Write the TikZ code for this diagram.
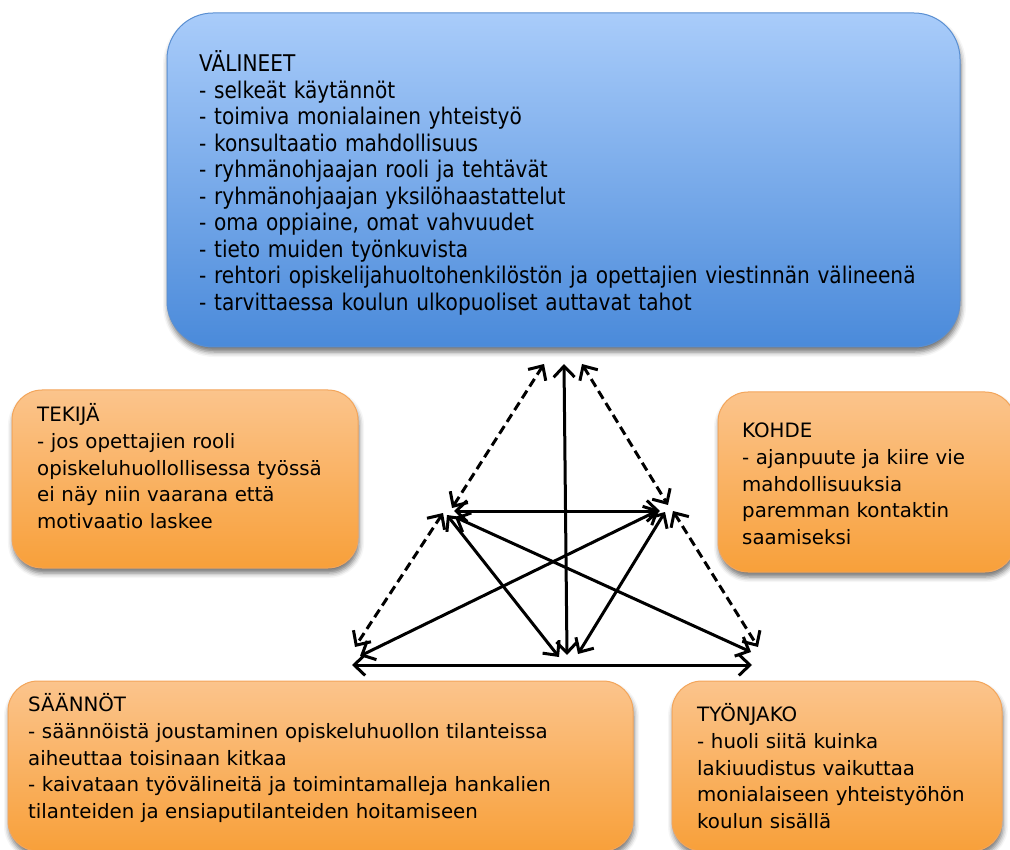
\documentclass[tikz,border=0pt]{standalone}
\usepackage{fontspec}
\newfontfamily\cardfont{DejaVu Sans}
\newfontfamily\toolsfont{DejaVu Sans}[FakeStretch=0.875]
\usetikzlibrary{arrows.meta,shadows.blur}

\definecolor{bluetop}{HTML}{A9CCFA}
\definecolor{bluebot}{HTML}{4A8ADA}
\definecolor{blueline}{HTML}{5A8FD2}
\definecolor{orangetop}{HTML}{FBC48C}
\definecolor{orangebot}{HTML}{F8A03A}
\definecolor{orangeline}{HTML}{F3A55A}

\tikzset{
  card/.style={draw=orangeline, line width=1pt, rounded corners=30pt,
    top color=orangetop, bottom color=orangebot, inner sep=0pt,
    blur shadow={shadow xshift=1pt, shadow yshift=-5pt, shadow blur radius=5pt, shadow opacity=55}},
  toolcard/.style={card, draw=blueline, rounded corners=46pt,
    top color=bluetop, bottom color=bluebot},
  cardtext/.style={anchor=north west, inner sep=0pt, text width=760pt, align=left,
    font=\cardfont\fontsize{19.8}{26.6}\selectfont},
  toolstext/.style={cardtext, font=\toolsfont\fontsize{23}{26.5}\selectfont},
  link/.style={line width=3pt, {Straight Barb[length=11pt,width=21pt]}-{Straight Barb[length=11pt,width=21pt]}},
  dlink/.style={link, dash pattern=on 9pt off 5pt}
}

\begin{document}
\begin{tikzpicture}[x=1pt,y=-1pt]
\useasboundingbox (0,0) rectangle (1010,850);

% activity system components
\node[toolcard, minimum width=793pt, minimum height=334pt] (tools) at (563.5,180) {};
\node[card, minimum width=346pt, minimum height=178pt] (subject) at (185,479) {};
\node[card, minimum width=297pt, minimum height=180pt] (object) at (866.5,482) {};
\node[card, minimum width=625pt, minimum height=170pt] (rules) at (320.5,766) {};
\node[card, minimum width=330pt, minimum height=170pt] (division) at (837,766) {};

\node[toolstext] (tools-t) at (199,50.5) {\strut VÄLINEET\\
- selkeät käytännöt\\
- toimiva monialainen yhteistyö\\
- konsultaatio mahdollisuus\\
- ryhmänohjaajan rooli ja tehtävät\\
- ryhmänohjaajan yksilöhaastattelut\\
- oma oppiaine, omat vahvuudet\\
- tieto muiden työnkuvista\\
- rehtori opiskelijahuoltohenkilöstön ja opettajien viestinnän välineenä\\
- tarvittaessa koulun ulkopuoliset auttavat tahot};

\node[cardtext] (subject-t) at (37,403) {\strut TEKIJÄ\\
- jos opettajien rooli\\
opiskeluhuollollisessa työssä\\
ei näy niin vaarana että\\
motivaatio laskee};

\node[cardtext] (object-t) at (742,419) {\strut KOHDE\\
- ajanpuute ja kiire vie\\
mahdollisuuksia\\
paremman kontaktin\\
saamiseksi};

\node[cardtext] (rules-t) at (28,693) {\strut SÄÄNNÖT\\
- säännöistä joustaminen opiskeluhuollon tilanteissa\\
aiheuttaa toisinaan kitkaa\\
- kaivataan työvälineitä ja toimintamalleja hankalien\\
tilanteiden ja ensiaputilanteiden hoitamiseen};

\node[cardtext] (division-t) at (697,703) {\strut TYÖNJAKO\\
- huoli siitä kuinka\\
lakiuudistus vaikuttaa\\
monialaiseen yhteistyöhön\\
koulun sisällä};

% triangle corner points
\coordinate (t1) at (544,364);
\coordinate (t2) at (564,364);
\coordinate (t3) at (582,364);
\coordinate (l1) at (452,508);
\coordinate (l2) at (454,511);
\coordinate (l3) at (443,513);
\coordinate (l4) at (447,515);
\coordinate (l5) at (455,517);
\coordinate (r1) at (668,505);
\coordinate (r2) at (660,511);
\coordinate (r3) at (673,511);
\coordinate (r4) at (665,512);
\coordinate (r5) at (659,510);
\coordinate (bl1) at (355,647);
\coordinate (bl2) at (352,665);
\coordinate (bl3) at (360,656);
\coordinate (bc1) at (567,655);
\coordinate (bc2) at (559,657);
\coordinate (bc3) at (578,654);
\coordinate (br1) at (758,647);
\coordinate (br2) at (752,665);
\coordinate (br3) at (751,652);

% connections
\draw[dlink] (t1) -- (l1);
\draw[link] (t2) -- (bc1);
\draw[dlink] (t3) -- (r1);
\draw[link] (l2) -- (r2);
\draw[dlink] (l3) -- (bl1);
\draw[dlink] (r3) -- (br1);
\draw[link] (bl2) -- (br2);
\draw[link] (l4) -- (bc2);
\draw[link] (r4) -- (bc3);
\draw[link] (l5) -- (br3);
\draw[link] (r5) -- (bl3);
\end{tikzpicture}
\end{document}
